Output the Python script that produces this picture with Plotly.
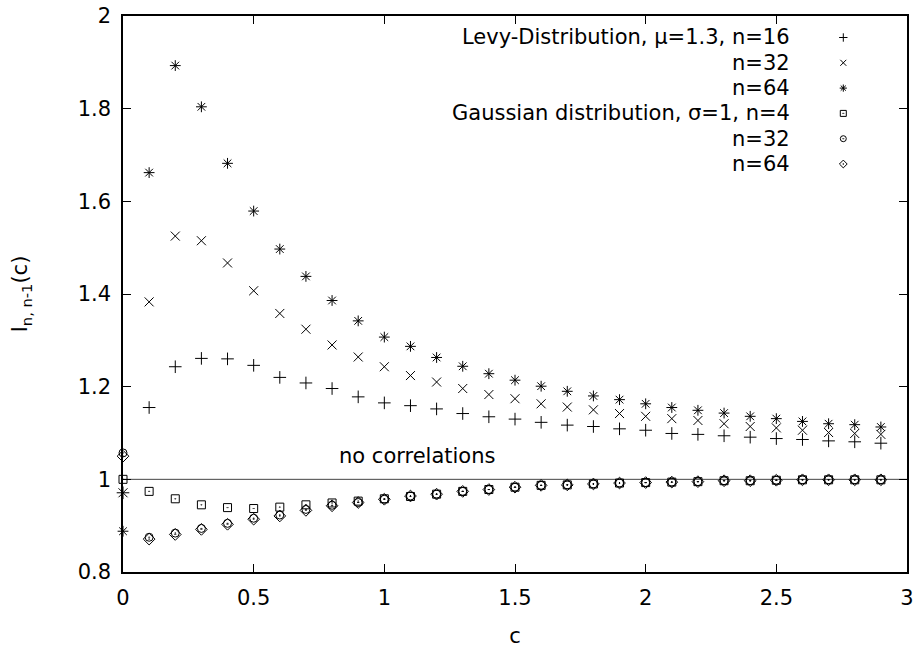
import plotly.graph_objects as go

# ---------------- data ----------------
c_values = [round(0.1 * i, 1) for i in range(30)]

levy_n16 = [0.971, 1.155, 1.243, 1.261, 1.260, 1.246, 1.220, 1.208, 1.196, 1.178,
            1.165, 1.159, 1.152, 1.142, 1.135, 1.130, 1.123, 1.117, 1.114, 1.109,
            1.106, 1.099, 1.097, 1.094, 1.091, 1.088, 1.086, 1.083, 1.081, 1.078]
levy_n32 = [0.971, 1.383, 1.525, 1.515, 1.467, 1.407, 1.358, 1.324, 1.290, 1.264,
            1.243, 1.224, 1.210, 1.196, 1.183, 1.174, 1.163, 1.156, 1.150, 1.142,
            1.136, 1.131, 1.127, 1.120, 1.114, 1.111, 1.106, 1.101, 1.099, 1.097]
levy_n64 = [0.888, 1.662, 1.893, 1.804, 1.682, 1.579, 1.497, 1.438, 1.386, 1.342,
            1.307, 1.287, 1.263, 1.244, 1.228, 1.214, 1.201, 1.190, 1.180, 1.172,
            1.163, 1.155, 1.149, 1.143, 1.136, 1.131, 1.125, 1.120, 1.118, 1.113]
gauss_n4 = [1.000, 0.974, 0.958, 0.945, 0.939, 0.937, 0.940, 0.945, 0.949, 0.953,
            0.958, 0.963, 0.968, 0.974, 0.978, 0.983, 0.987, 0.988, 0.990, 0.992,
            0.993, 0.994, 0.995, 0.997, 0.997, 0.998, 0.999, 0.999, 0.999, 0.999]
gauss_n32 = [1.057, 0.875, 0.884, 0.894, 0.905, 0.916, 0.923, 0.935, 0.944, 0.950,
             0.957, 0.964, 0.968, 0.974, 0.978, 0.983, 0.987, 0.988, 0.990, 0.992,
             0.993, 0.994, 0.995, 0.997, 0.997, 0.998, 0.999, 0.999, 0.999, 0.999]
gauss_n64 = [1.050, 0.871, 0.881, 0.892, 0.903, 0.914, 0.921, 0.933, 0.943, 0.950,
             0.957, 0.964, 0.968, 0.974, 0.978, 0.983, 0.987, 0.988, 0.990, 0.992,
             0.993, 0.994, 0.995, 0.997, 0.997, 0.998, 0.999, 0.999, 0.999, 0.999]

series_labels = ["Levy-Distribution, \u03bc=1.3, n=16", "n=32", "n=64",
                 "Gaussian distribution, \u03c3=1, n=4", "n=32", "n=64"]
series_values = [levy_n16, levy_n32, levy_n64, gauss_n4, gauss_n32, gauss_n64]
series_symbols = ["cross-thin-open", "x-thin-open", "asterisk-open",
                  "square-open-dot", "circle-open-dot", "diamond-open-dot"]
series_sizes = [9, 9, 9, 8, 8, 9]

no_corr_level = 1.0
no_corr_text = "no correlations"

x_range = [0, 3]
y_range = [0.8, 2.0]
x_title = "c"
y_title = "I<sub>n, n-1</sub>(c)"

FONT = "DejaVu Sans"
FS = 21

# plot-area geometry (pixels) used for placing the gnuplot-style key
L, R, T, B = 123, 6, 16, 77
W, H = 913, 649
PW, PH = W - L - R, H - T - B


def px_to_paper_x(px):
    return (px - L) / PW


def px_to_paper_y(py):
    return (H - B - py) / PH


# ---------------- figure ----------------
fig = go.Figure()

for vals, sym, sz in zip(series_values, series_symbols, series_sizes):
    fig.add_trace(go.Scatter(
        x=c_values, y=vals, mode="markers", cliponaxis=False, showlegend=False,
        marker=dict(symbol=sym, size=sz, color="black",
                    line=dict(color="black", width=1)),
    ))

# key: text on the left, symbol on the right (gnuplot style)
leg_text_px = 791.7
leg_sym_px = 843.3
leg_rows_py = [37.5 + 25.3 * i for i in range(len(series_labels))]

sym_x = [x_range[0] + px_to_paper_x(leg_sym_px) * (x_range[1] - x_range[0])] * len(series_labels)
sym_y = [y_range[0] + px_to_paper_y(py) * (y_range[1] - y_range[0]) for py in leg_rows_py]
fig.add_trace(go.Scatter(
    x=sym_x, y=sym_y, mode="markers", showlegend=False, cliponaxis=False,
    marker=dict(symbol=series_symbols, size=6, color="black",
                line=dict(color="black", width=1)),
))

annotations = []
for lab, py in zip(series_labels, leg_rows_py):
    annotations.append(dict(
        text=lab, x=px_to_paper_x(leg_text_px), y=px_to_paper_y(py),
        xref="paper", yref="paper", xanchor="right", yanchor="middle",
        showarrow=False, font=dict(family=FONT, size=FS, color="black"),
    ))

annotations.append(dict(
    text=no_corr_text, x=px_to_paper_x(497), y=px_to_paper_y(456),
    xref="paper", yref="paper", xanchor="right", yanchor="middle",
    showarrow=False, font=dict(family=FONT, size=FS, color="black"),
))

fig.add_shape(type="line", xref="paper", yref="y", x0=0, x1=1,
              y0=no_corr_level, y1=no_corr_level,
              line=dict(color="#444444", width=1), layer="below")

axis_common = dict(
    showgrid=False, zeroline=False, showline=True, linecolor="black",
    linewidth=1.5, mirror="ticks", ticks="inside", ticklen=8,
    tickwidth=1, tickcolor="black", ticklabelstandoff=6, automargin=False,
    ticklabeloverflow="allow",
    tickfont=dict(family=FONT, size=FS, color="black"),
)

fig.update_layout(
    width=W, height=H,
    margin=dict(l=L, r=R, t=T, b=B),
    paper_bgcolor="white", plot_bgcolor="white",
    xaxis=dict(range=x_range, dtick=0.5, tick0=0,
               title=dict(text=x_title, standoff=19,
                          font=dict(family=FONT, size=FS, color="black")),
               **axis_common),
    yaxis=dict(range=y_range, dtick=0.2, tick0=0.8,
               title=dict(text=y_title, standoff=44,
                          font=dict(family=FONT, size=FS, color="black")),
               **axis_common),
    annotations=annotations,
    showlegend=False,
)

fig.write_html("out.html")
